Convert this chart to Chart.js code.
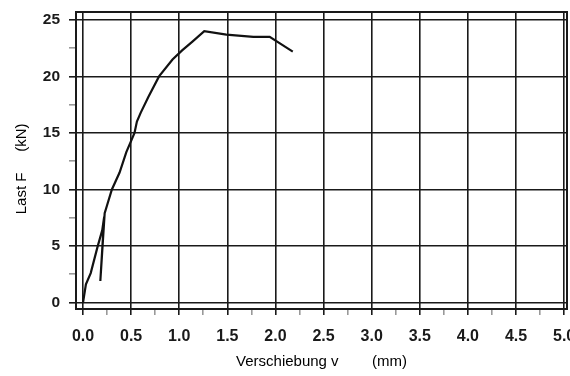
<!DOCTYPE html>
<html>
<head>
<meta charset="utf-8">
<script src="https://cdn.jsdelivr.net/npm/chart.js@4.4.0/dist/chart.umd.min.js"></script>
<style>
  html, body { margin: 0; padding: 0; background: #fff; }
</style>
</head>
<body>
<canvas id="canvas" width="570" height="376"></canvas>
<script>
// Messkurve: Verschiebung v (mm) / Last F (kN)
const dispV = [0, 0.03, 0.08, 0.15, 0.20, 0.22, 0.18, 0.225, 0.25, 0.30, 0.38, 0.45, 0.50, 0.535, 0.56, 0.60, 0.68, 0.79, 0.93, 1.03, 1.14, 1.26, 1.49, 1.77, 1.94, 2.18];
const loadF = [0, 1.6, 2.6, 4.9, 6.4, 7.6, 1.9, 7.9, 8.6, 10.0, 11.5, 13.3, 14.3, 15.0, 16.0, 16.8, 18.2, 20.0, 21.5, 22.3, 23.1, 24.0, 23.7, 23.5, 23.5, 22.2];

// Achsenbeschriftung
const xTicks = [0, 0.5, 1.0, 1.5, 2.0, 2.5, 3.0, 3.5, 4.0, 4.5, 5.0];
const xMinor = [0.25, 0.75, 1.25, 1.75, 2.25, 2.75, 3.25, 3.75, 4.25, 4.75];
const yTicks = [0, 5, 10, 15, 20, 25];
const yMinor = [2.5, 7.5, 12.5, 17.5, 22.5];

const ink = '#1a1a1a';

// Rahmen um die Zeichenfläche
const framePlugin = {
    id: 'frame',
    afterDraw(chart) {
        const a = chart.chartArea;
        const c = chart.ctx;
        c.save();
        c.strokeStyle = ink;
        c.lineWidth = 2;
        c.strokeRect(a.left, a.top, a.right - a.left, a.bottom - a.top);
        c.restore();
    }
};

function buildTicks(major, minor) {
    return major.concat(minor).sort((a, b) => a - b).map(v => ({ value: v }));
}

const ctx = document.getElementById('canvas').getContext('2d');
const myChart = new Chart(ctx, {
    type: 'scatter',
    data: {
        datasets: [{
            data: dispV.map((v, i) => ({ x: v, y: loadF[i] })),
            showLine: true,
            borderColor: '#111',
            borderWidth: 2.2,
            pointRadius: 0,
            tension: 0,
        }]
    },
    options: {
        responsive: false,
        animation: false,
        layout: { padding: { top: 12, right: 3, left: 0, bottom: 0 } },
        plugins: {
            legend: { display: false },
            tooltip: { enabled: false },
        },
        scales: {
            x: {
                type: 'linear',
                min: -0.073,
                max: 5.03,
                afterBuildTicks: s => { s.ticks = buildTicks(xTicks, xMinor); },
                afterFit: s => { s.height = 67; s.paddingLeft = 0; s.paddingRight = 0; },
                border: { display: false },
                grid: {
                    color: c => (c.tick && xTicks.includes(c.tick.value)) ? ink : 'rgba(0,0,0,0)',
                    tickColor: c => (c.tick && xTicks.includes(c.tick.value)) ? ink : '#999',
                    lineWidth: 1.6,
                    tickLength: 6,
                },
                ticks: {
                    autoSkip: false,
                    maxRotation: 0,
                    padding: 12,
                    color: ink,
                    font: { family: 'Liberation Sans', size: 16, weight: 'bold' },
                    callback: v => xTicks.includes(v) ? v.toFixed(1) : '',
                },
                title: {
                    display: true,
                    text: 'Verschiebung v        (mm)',
                    color: '#000',
                    font: { family: 'Liberation Sans', size: 15 },
                    padding: { top: 0, bottom: 5 },
                },
            },
            y: {
                min: -0.575,
                max: 25.7,
                afterBuildTicks: s => { s.ticks = buildTicks(yTicks, yMinor); },
                afterFit: s => { s.width = 76; s.paddingTop = 0; s.paddingBottom = 0; },
                border: { display: false },
                grid: {
                    color: c => (c.tick && yTicks.includes(c.tick.value)) ? ink : 'rgba(0,0,0,0)',
                    tickColor: c => (c.tick && yTicks.includes(c.tick.value)) ? ink : '#999',
                    lineWidth: 1.6,
                    tickLength: 7,
                },
                ticks: {
                    autoSkip: false,
                    padding: 9,
                    color: ink,
                    font: { family: 'Liberation Sans', size: 15.5, weight: 'bold' },
                    callback: v => yTicks.includes(v) ? String(v) : '',
                },
                title: {
                    display: true,
                    text: 'Last F     (kN)    ',
                    color: '#000',
                    font: { family: 'Liberation Sans', size: 15 },
                    padding: { top: 13, bottom: 0 },
                },
            },
        },
    },
    plugins: [framePlugin],
});
</script>
</body>
</html>
